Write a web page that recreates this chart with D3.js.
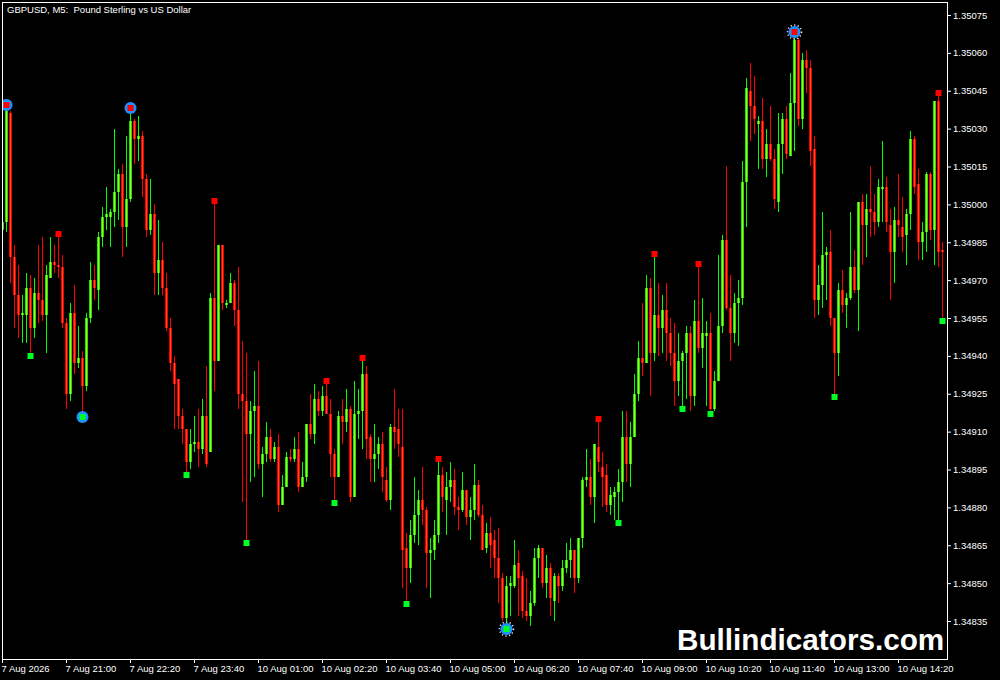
<!DOCTYPE html>
<html><head><meta charset="utf-8">
<script src="https://cdn.jsdelivr.net/npm/d3@7"></script>
<style>html,body{margin:0;padding:0;background:#000;}svg{display:block}</style>
</head><body>
<svg id="c" width="1000" height="680"></svg>
<script>
const title = "GBPUSD, M5:  Pound Sterling vs US Dollar";
const watermark = "Bullindicators.com";

const opens = [
1.34990,1.34993,1.35036,1.34979,1.34964,1.34956,1.34956,1.34967,1.34951,1.34965,
1.34962,1.34956,1.34971,1.34977,1.34976,1.34975,1.34953,1.34925,1.34957,1.34937,
1.34939,1.34928,1.34955,1.34970,1.34966,1.34987,1.34995,1.34995,1.34997,1.35005,
1.35012,1.34991,1.35002,1.35033,1.35026,1.35027,1.35010,1.34990,1.34996,1.34973,
1.34978,1.34967,1.34951,1.34937,1.34931,1.34916,1.34911,1.34898,1.34905,1.34906,
1.34903,1.34916,1.34902,1.34963,1.34938,1.34984,1.34960,1.34961,1.34969,1.34958,
1.34925,1.34922,1.34909,1.34918,1.34920,1.34897,1.34901,1.34908,1.34899,1.34904,
1.34881,1.34888,1.34900,1.34899,1.34903,1.34888,1.34892,1.34913,1.34909,1.34923,
1.34918,1.34924,1.34917,1.34901,1.34892,1.34916,1.34914,1.34919,1.34884,1.34917,
1.34918,1.34933,1.34908,1.34899,1.34901,1.34905,1.34891,1.34883,1.34912,1.34911,
1.34904,1.34864,1.34856,1.34869,1.34877,1.34883,1.34879,1.34862,1.34863,1.34869,
1.34893,1.34883,1.34888,1.34891,1.34880,1.34879,1.34887,1.34876,1.34879,1.34889,
1.34877,1.34864,1.34870,1.34867,1.34860,1.34852,1.34836,1.34849,1.34849,1.34858,
1.34853,1.34839,1.34837,1.34842,1.34860,1.34864,1.34850,1.34856,1.34843,1.34853,
1.34849,1.34856,1.34859,1.34863,1.34852,1.34868,1.34891,1.34892,1.34884,1.34904,
1.34896,1.34893,1.34881,1.34884,1.34886,1.34890,1.34908,1.34897,1.34908,1.34925,
1.34939,1.34937,1.34967,1.34941,1.34956,1.34951,1.34958,1.34949,1.34941,1.34930,
1.34938,1.34941,1.34949,1.34924,1.34954,1.34943,1.34948,1.34949,1.34919,1.34930,
1.34952,1.34986,1.34959,1.34949,1.34961,1.34963,1.35009,1.35045,1.35039,1.35032,
1.35033,1.35018,1.35024,1.35018,1.35001,1.35024,1.35034,1.35019,1.35040,1.35065,
1.35034,1.35057,1.35054,1.35022,1.34962,1.34968,1.34980,1.34981,1.34955,1.34941,
1.34966,1.34960,1.34963,1.34975,1.34966,1.35001,1.34992,1.34998,1.34997,1.34993,
1.35006,1.35007,1.34992,1.34981,1.34994,1.34991,1.34988,1.34996,1.35026,1.35008,
1.34985,1.34989,1.35012,1.34990,1.35041,1.34982];

const highs = [
1.34995,1.35038,1.35037,1.34984,1.34976,1.34964,1.34973,1.34972,1.34971,1.34984,
1.34987,1.34976,1.34987,1.34984,1.34987,1.34980,1.34955,1.34961,1.34968,1.34952,
1.34942,1.34957,1.34977,1.34976,1.34989,1.34999,1.35007,1.34998,1.35030,1.35014,
1.35016,1.35027,1.35037,1.35034,1.35035,1.35029,1.35012,1.35010,1.35000,1.34994,
1.34985,1.34973,1.34955,1.34940,1.34931,1.34919,1.34911,1.34911,1.34916,1.34919,
1.34923,1.34936,1.34965,1.35000,1.34984,1.34984,1.34962,1.34973,1.34970,1.34975,
1.34946,1.34941,1.34922,1.34934,1.34938,1.34904,1.34914,1.34911,1.34906,1.34909,
1.34893,1.34902,1.34903,1.34908,1.34910,1.34898,1.34913,1.34925,1.34929,1.34926,
1.34928,1.34929,1.34923,1.34903,1.34918,1.34923,1.34927,1.34920,1.34930,1.34927,
1.34938,1.34936,1.34909,1.34913,1.34908,1.34910,1.34896,1.34913,1.34927,1.34919,
1.34919,1.34870,1.34875,1.34892,1.34887,1.34896,1.34880,1.34868,1.34875,1.34898,
1.34896,1.34894,1.34898,1.34895,1.34884,1.34894,1.34887,1.34884,1.34897,1.34891,
1.34881,1.34874,1.34876,1.34871,1.34872,1.34854,1.34853,1.34853,1.34867,1.34863,
1.34855,1.34852,1.34847,1.34864,1.34865,1.34864,1.34861,1.34858,1.34854,1.34854,
1.34859,1.34866,1.34868,1.34863,1.34868,1.34892,1.34903,1.34899,1.34905,1.34914,
1.34902,1.34897,1.34888,1.34888,1.34895,1.34918,1.34918,1.34914,1.34933,1.34946,
1.34961,1.34972,1.34971,1.34979,1.34969,1.34964,1.34969,1.34955,1.34953,1.34949,
1.34942,1.34952,1.34952,1.34962,1.34975,1.34963,1.34954,1.34957,1.34934,1.34980,
1.34988,1.35015,1.34972,1.34965,1.34970,1.35017,1.35050,1.35056,1.35051,1.35035,
1.35042,1.35030,1.35039,1.35022,1.35036,1.35036,1.35039,1.35052,1.35067,1.35066,
1.35060,1.35061,1.35057,1.35027,1.34976,1.34997,1.34983,1.34990,1.34955,1.34969,
1.34974,1.34965,1.34997,1.34982,1.35001,1.35004,1.35004,1.35015,1.35004,1.35010,
1.35025,1.35011,1.34998,1.34999,1.35012,1.35003,1.34998,1.35029,1.35027,1.35014,
1.34993,1.35013,1.35013,1.35041,1.35043,1.34985];

const lows = [
1.34989,1.34989,1.34969,1.34951,1.34947,1.34945,1.34945,1.34941,1.34947,1.34953,
1.34954,1.34941,1.34971,1.34973,1.34971,1.34951,1.34919,1.34922,1.34933,1.34935,
1.34917,1.34926,1.34953,1.34962,1.34958,1.34983,1.34990,1.34983,1.34991,1.34994,
1.34979,1.34983,1.35001,1.35016,1.35017,1.35003,1.34987,1.34988,1.34964,1.34964,
1.34964,1.34950,1.34934,1.34911,1.34911,1.34905,1.34894,1.34895,1.34902,1.34896,
1.34901,1.34896,1.34902,1.34926,1.34938,1.34958,1.34959,1.34961,1.34952,1.34919,
1.34882,1.34867,1.34890,1.34892,1.34895,1.34884,1.34898,1.34898,1.34898,1.34878,
1.34881,1.34888,1.34898,1.34898,1.34886,1.34888,1.34890,1.34907,1.34905,1.34916,
1.34916,1.34917,1.34892,1.34883,1.34892,1.34905,1.34910,1.34882,1.34884,1.34907,
1.34903,1.34899,1.34890,1.34890,1.34895,1.34886,1.34882,1.34879,1.34903,1.34900,
1.34848,1.34843,1.34850,1.34866,1.34865,1.34873,1.34848,1.34844,1.34859,1.34866,
1.34878,1.34869,1.34882,1.34877,1.34871,1.34878,1.34873,1.34867,1.34875,1.34876,
1.34863,1.34862,1.34856,1.34852,1.34842,1.34835,1.34833,1.34837,1.34848,1.34837,
1.34836,1.34835,1.34833,1.34841,1.34852,1.34848,1.34844,1.34837,1.34835,1.34842,
1.34847,1.34854,1.34852,1.34846,1.34850,1.34864,1.34888,1.34881,1.34874,1.34894,
1.34880,1.34878,1.34877,1.34875,1.34875,1.34882,1.34890,1.34888,1.34908,1.34922,
1.34932,1.34937,1.34924,1.34938,1.34940,1.34941,1.34938,1.34936,1.34920,1.34924,
1.34920,1.34923,1.34918,1.34920,1.34941,1.34935,1.34920,1.34918,1.34918,1.34930,
1.34949,1.34958,1.34938,1.34945,1.34944,1.34960,1.34991,1.35025,1.35028,1.35014,
1.35014,1.35011,1.35017,1.34998,1.34997,1.35012,1.35018,1.35019,1.35021,1.35031,
1.35030,1.35044,1.35015,1.34955,1.34956,1.34959,1.34962,1.34952,1.34925,1.34932,
1.34957,1.34951,1.34962,1.34965,1.34950,1.34976,1.34979,1.34987,1.34988,1.34991,
1.34993,1.34989,1.34962,1.34969,1.34987,1.34981,1.34976,1.34990,1.35004,1.34978,
1.34978,1.34981,1.34986,1.34976,1.34975,1.34955];

const closes = [
1.34993,1.35037,1.34979,1.34964,1.34956,1.34957,1.34967,1.34951,1.34965,1.34962,
1.34956,1.34972,1.34977,1.34976,1.34975,1.34953,1.34925,1.34957,1.34937,1.34939,
1.34928,1.34955,1.34970,1.34967,1.34987,1.34995,1.34996,1.34997,1.35005,1.35012,
1.34991,1.35002,1.35033,1.35026,1.35027,1.35010,1.34990,1.34996,1.34973,1.34978,
1.34967,1.34951,1.34937,1.34929,1.34916,1.34911,1.34898,1.34905,1.34906,1.34903,
1.34916,1.34897,1.34963,1.34938,1.34984,1.34961,1.34961,1.34969,1.34958,1.34925,
1.34922,1.34909,1.34918,1.34920,1.34897,1.34901,1.34908,1.34899,1.34904,1.34881,
1.34888,1.34900,1.34899,1.34903,1.34888,1.34892,1.34913,1.34909,1.34923,1.34918,
1.34924,1.34917,1.34901,1.34892,1.34916,1.34914,1.34919,1.34884,1.34917,1.34918,
1.34933,1.34907,1.34899,1.34901,1.34905,1.34892,1.34883,1.34912,1.34910,1.34905,
1.34863,1.34856,1.34869,1.34877,1.34883,1.34879,1.34862,1.34863,1.34869,1.34893,
1.34884,1.34888,1.34891,1.34880,1.34879,1.34887,1.34876,1.34879,1.34889,1.34877,
1.34863,1.34870,1.34865,1.34860,1.34852,1.34836,1.34849,1.34850,1.34857,1.34852,
1.34839,1.34837,1.34842,1.34860,1.34864,1.34850,1.34856,1.34844,1.34853,1.34849,
1.34856,1.34859,1.34863,1.34852,1.34868,1.34891,1.34892,1.34884,1.34905,1.34898,
1.34892,1.34881,1.34885,1.34886,1.34890,1.34908,1.34897,1.34908,1.34925,1.34939,
1.34937,1.34967,1.34941,1.34956,1.34951,1.34958,1.34949,1.34941,1.34930,1.34938,
1.34941,1.34949,1.34924,1.34954,1.34943,1.34949,1.34949,1.34919,1.34930,1.34952,
1.34986,1.34959,1.34949,1.34961,1.34963,1.35009,1.35046,1.35039,1.35034,1.35033,
1.35018,1.35024,1.35018,1.35002,1.35024,1.35034,1.35020,1.35040,1.35065,1.35034,
1.35057,1.35054,1.35021,1.34962,1.34968,1.34980,1.34981,1.34955,1.34941,1.34966,
1.34960,1.34963,1.34975,1.34966,1.35001,1.34992,1.34998,1.34997,1.34993,1.35007,
1.35007,1.34993,1.34981,1.34994,1.34992,1.34987,1.34996,1.35026,1.35007,1.34985,
1.34989,1.35012,1.34990,1.35041,1.34981,1.34981];

const xTickBars = [0,16,32,48,64,80,96,112,128,144,160,176,192,208,224];
const xTickLabels = ["7 Aug 2026","7 Aug 21:00","7 Aug 22:20","7 Aug 23:40","10 Aug 01:00","10 Aug 02:20","10 Aug 03:40","10 Aug 05:00","10 Aug 06:20","10 Aug 07:40","10 Aug 09:00","10 Aug 10:20","10 Aug 11:40","10 Aug 13:00","10 Aug 14:20"];
const yTicks = [1.34835,1.34850,1.34865,1.34880,1.34895,1.34910,1.34925,1.34940,1.34955,1.34970,1.34985,1.35000,1.35015,1.35030,1.35045,1.35060,1.35075];

const fractalHighBars = [1,14,32,53,81,90,109,149,163,174,198,234];
const fractalLowBars  = [7,20,46,61,83,101,126,154,170,177,208,235];
const swingHighBars = [1,32,198];
const swingLowBars  = [20,126];
const ringedBars = [126,198];

const FONT = "'Liberation Sans', Arial, sans-serif";
const svg = d3.select("#c");
svg.append("rect").attr("width",1000).attr("height",680).attr("fill","#000");

const x = d3.scaleLinear().domain([0, 235]).range([2, 942]);
const y = d3.scaleLinear().domain([1.34835, 1.35075]).range([621, 15]);

svg.append("defs").append("clipPath").attr("id","plotclip")
  .append("rect").attr("x",3).attr("y",3).attr("width",944).attr("height",656);

const g = svg.append("g").attr("clip-path","url(#plotclip)");
const idx = d3.range(opens.length);

const col = {
  upWick:"#00ff00", upEdge:"#22dd00", upMid:"#9cff2a",
  dnWick:"#ff0000", dnEdge:"#f00000", dnMid:"#ff4a1c"
};

const candle = g.selectAll("g.c").data(idx).join("g").attr("class","c");
candle.append("rect")
  .attr("x", i => x(i)).attr("width", 1)
  .attr("y", i => Math.round(y(highs[i])))
  .attr("height", i => Math.max(1, Math.round(y(lows[i])) - Math.round(y(highs[i]))))
  .attr("fill", i => closes[i] >= opens[i] ? col.upWick : col.dnWick);
function bTop(i){ return Math.round(y(Math.max(opens[i], closes[i]))); }
function bH(i){ return Math.max(1, Math.round(y(Math.min(opens[i], closes[i]))) - bTop(i)); }
candle.append("rect")
  .attr("x", i => x(i) - 1).attr("width", 3)
  .attr("y", bTop).attr("height", bH)
  .attr("fill", i => closes[i] >= opens[i] ? col.upEdge : col.dnEdge);
candle.append("rect")
  .attr("x", i => x(i)).attr("width", 1)
  .attr("y", bTop).attr("height", bH)
  .attr("fill", i => closes[i] >= opens[i] ? col.upMid : col.dnMid);

// swing circles
const cx = i => x(i) + 0.5;
g.selectAll("circle.sh").data(swingHighBars).join("circle")
  .attr("cx", cx).attr("cy", i => Math.round(y(highs[i])) - 3)
  .attr("r", 6).attr("fill", "#1e90ff");
g.selectAll("circle.sl").data(swingLowBars).join("circle")
  .attr("cx", cx).attr("cy", i => Math.round(y(lows[i])) + 3)
  .attr("r", 6).attr("fill", "#1e90ff");
g.selectAll("circle.ring").data(ringedBars).join("circle")
  .attr("cx", cx)
  .attr("cy", i => swingHighBars.includes(i) ? Math.round(y(highs[i])) - 3 : Math.round(y(lows[i])) + 3)
  .attr("r", 7).attr("fill","none").attr("stroke","#e8e8ff").attr("stroke-width",1.5)
  .attr("stroke-dasharray","1.2,2.4");

// fractal squares
g.selectAll("rect.fh").data(fractalHighBars).join("rect")
  .attr("x", i => x(i) - 2.5).attr("width", 6)
  .attr("y", i => Math.round(y(highs[i])) - 6).attr("height", 6)
  .attr("fill", "#ff0000");
g.selectAll("rect.fl").data(fractalLowBars).join("rect")
  .attr("x", i => x(i) - 2.5).attr("width", 6)
  .attr("y", i => Math.round(y(lows[i]))).attr("height", 6)
  .attr("fill", "#00ff22");

// frame
svg.append("rect").attr("x",2.5).attr("y",2.5).attr("width",945).attr("height",657)
  .attr("fill","none").attr("stroke","#fff").attr("stroke-width",1);

// axes
const yAxis = svg.append("g").attr("transform","translate(947,0)")
  .call(d3.axisRight(y).tickValues(yTicks).tickFormat(d3.format(".5f")).tickSize(4).tickPadding(2));
yAxis.select(".domain").remove();
yAxis.selectAll("line").attr("stroke","#fff");
yAxis.selectAll("text").attr("fill","#fff").style("font-family",FONT).style("font-size","9.5px");

const xAxis = svg.append("g").attr("transform","translate(0,659)")
  .call(d3.axisBottom(x).tickValues(xTickBars).tickFormat((d,k) => xTickLabels[k]).tickSize(4).tickPadding(2));
xAxis.select(".domain").remove();
xAxis.selectAll("line").attr("stroke","#fff");
xAxis.selectAll("text").attr("fill","#fff").attr("text-anchor","start").attr("x",-1)
  .style("font-family",FONT).style("font-size","9.5px");

// title
svg.append("text").attr("x",7).attr("y",13).attr("fill","#fff")
  .style("font-family",FONT).style("font-size","9.5px").style("white-space","pre")
  .text(title);

// watermark
svg.append("text").attr("x",677).attr("y",650).attr("fill","#fff")
  .style("font-family",FONT).style("font-size","29.7px").style("font-weight","bold")
  .text(watermark);
</script>
</body></html>
